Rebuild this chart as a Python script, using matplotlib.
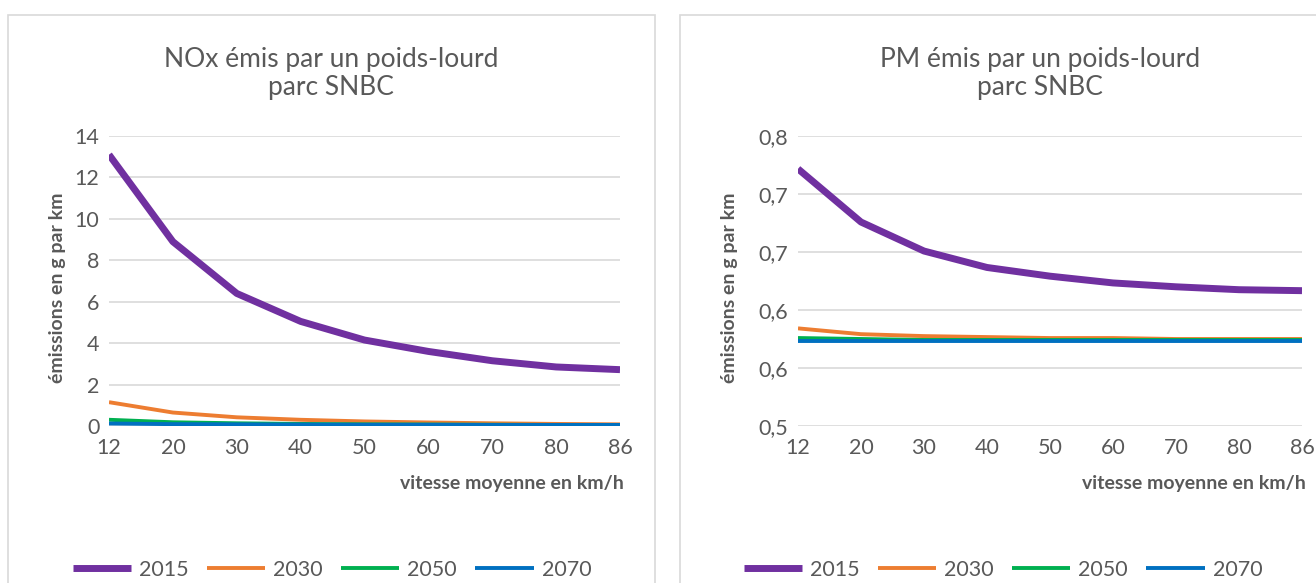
import numpy as np
import matplotlib
matplotlib.use('Agg')
import matplotlib.pyplot as plt
from matplotlib.patches import Rectangle
from matplotlib.ticker import FuncFormatter

plt.rcParams['font.family'] = ['Lato', 'DejaVu Sans']

# data
speeds = ['12', '20', '30', '40', '50', '60', '70', '80', '86']
years = ['2015', '2030', '2050', '2070']

nox_2015 = [13.1, 8.9, 6.4, 5.05, 4.15, 3.6, 3.15, 2.85, 2.72]
nox_2030 = [1.15, 0.65, 0.42, 0.30, 0.22, 0.17, 0.13, 0.10, 0.08]
nox_2050 = [0.30, 0.18, 0.13, 0.10, 0.08, 0.07, 0.06, 0.05, 0.05]
nox_2070 = [0.12, 0.09, 0.08, 0.07, 0.06, 0.06, 0.05, 0.05, 0.05]

pm_2015 = [0.766, 0.711, 0.681, 0.664, 0.655, 0.648, 0.644, 0.641, 0.640]
pm_2030 = [0.601, 0.595, 0.593, 0.592, 0.591, 0.591, 0.590, 0.590, 0.590]
pm_2050 = [0.591, 0.590, 0.589, 0.589, 0.589, 0.589, 0.589, 0.589, 0.589]
pm_2070 = [0.588, 0.588, 0.588, 0.588, 0.588, 0.588, 0.588, 0.588, 0.588]

colors = ['#7030A0', '#ED7D31', '#00B050', '#0070C0']
widths = [5.0, 2.8, 2.8, 2.8]
txt = '#595959'
grid = '#D9D9D9'

W, H = 1316, 583
fig = plt.figure(figsize=(W / 100, H / 100), dpi=100)


def px(x, y):
    return x / W, 1 - y / H


# panel frames
for x0, x1 in [(8, 655), (680, 1340)]:
    fig.patches.append(Rectangle(px(x0, 600), (x1 - x0) / W, 585 / H,
                                 transform=fig.transFigure, fill=False,
                                 ec=grid, lw=1.2))


def panel(left, right, series, yticks, fmt, title, title_x, ylab_x, leg_x):
    x0, y1 = px(left, 426)
    ax = fig.add_axes((x0, y1, (right - left) / W, 290 / H))
    x = np.arange(len(speeds))
    lines = []
    for vals, c, lw, yr in zip(series, colors, widths, years):
        l, = ax.plot(x, vals, color=c, lw=lw, label=yr, solid_capstyle='butt')
        lines.append(l)
    ax.set_xlim(0, len(speeds) - 1)
    ax.set_ylim(yticks[0], yticks[-1])
    ax.set_yticks(yticks)
    ax.yaxis.set_major_formatter(FuncFormatter(fmt))
    ax.set_xticks(x)
    ax.set_xticklabels(speeds)
    ax.grid(axis='y', color=grid, lw=1.2)
    ax.set_axisbelow(True)
    for s in ax.spines.values():
        s.set_visible(False)
    ax.tick_params(length=0, labelsize=15.5, colors=txt)
    ax.tick_params(axis='x', pad=9)
    ax.tick_params(axis='y', pad=7)

    fig.text(*px(title_x, 74), title, ha='center', va='center', fontsize=19,
             color=txt, linespacing=1.15)
    fig.text(*px(ylab_x, 288), 'émissions en g par km', rotation=90,
             ha='center', va='center', fontsize=14, fontweight='bold', color=txt)
    fig.text(*px(right + 4, 483), 'vitesse moyenne en km/h', ha='right',
             va='center', fontsize=14, fontweight='bold', color=txt)
    fig.legend(lines, years, loc='center', bbox_to_anchor=px(leg_x, 570),
               ncol=4, frameon=False, fontsize=15.5, labelcolor=txt,
               handlelength=2.7, handletextpad=0.38, columnspacing=0.85)
    return ax


panel(109, 620, [nox_2015, nox_2030, nox_2050, nox_2070],
      np.arange(0, 15, 2), lambda v, p: f'{v:.0f}',
      'NOx émis par un poids-lourd\nparc SNBC', 331, 58, 332)

panel(798, 1302, [pm_2015, pm_2030, pm_2050, pm_2070],
      np.linspace(0.5, 0.8, 6), lambda v, p: f'{v:.1f}'.replace('.', ','),
      'PM émis par un poids-lourd\nparc SNBC', 1040, 730, 1003)

fig.savefig('out.png', dpi=100)
